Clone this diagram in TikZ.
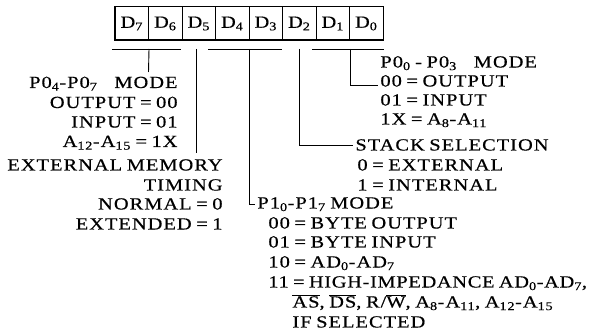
\documentclass[tikz,border=0pt]{standalone}
\usepackage{fontspec}
\setmainfont{Liberation Serif}[FakeStretch=1.2, LetterSpace=6, WordSpace=0.75, FakeBold=0.5]

\tikzset{
  bunka/.style={draw, line width=1pt, minimum width=33.5pt, minimum height=33pt, inner sep=0pt},
  vlevo/.style={inner sep=0pt, anchor=base east},
  vpravo/.style={inner sep=0pt, anchor=base west},
}

\begin{document}
\begin{tikzpicture}[x=1pt, y=-1pt, line width=0.9pt, font=\fontsize{17}{20}\selectfont]
\useasboundingbox (0,0) rectangle (592,336);

% registr
\foreach \i in {0,...,7}
  \node[bunka] (d\i) at ({366.25-33.5*\i},23.5) {D\textsubscript{\i}};
\draw[line width=1.8pt] (d7.north west) rectangle (d0.south east);

% bity D7 a D6
\node[vlevo] (p47) at (178,88) {P0\textsubscript{4}-P0\textsubscript{7}\quad MODE};
\node[vlevo] (out) at (178,108) {OUTPUT = 00};
\node[vlevo] (inp) at (178,127.5) {INPUT = 01};
\node[vlevo] (a12) at (178,147) {A\textsubscript{12}-A\textsubscript{15} = 1X};
\coordinate (z76) at (112,49);
\coordinate (k76) at (181,49);
\coordinate (c76) at (148.5,72);
\draw (z76) -- (k76);
\draw (d7.south east |- z76) -- (c76);

% bit D5
\node[vlevo] (ext) at (223,170.5) {EXTERNAL MEMORY};
\node[vlevo] (tim) at (223,190.5) {TIMING};
\node[vlevo] (nor) at (223,209.5) {NORMAL = 0};
\node[vlevo] (exd) at (223,229.5) {EXTENDED = 1};
\coordinate (c5) at (196,153);
\draw (c5 |- z76) -- (c5);

% bity D4 a D3
\node[vpravo] (p17) at (257,208.5) {P1\textsubscript{0}-P1\textsubscript{7} MODE};
\node[vpravo] (b00) at (268,228.5) {00 = BYTE OUTPUT};
\node[vpravo] (b01) at (268,247.5) {01 = BYTE INPUT};
\node[vpravo] (b10) at (268,267.5) {10 = AD\textsubscript{0}-AD\textsubscript{7}};
\node[vpravo] (b11) at (268,287.5) {\addfontfeature{LetterSpace=4}11 = HIGH-IMPEDANCE AD\textsubscript{0}-AD\textsubscript{7},};
\node[vpravo] (bas) at (292,307.5) {$\overline{\mbox{AS}}$, $\overline{\mbox{DS}}$, R/$\overline{\mbox{W}}$, A\textsubscript{8}-A\textsubscript{11}, A\textsubscript{12}-A\textsubscript{15}};
\node[vpravo] (bif) at (292,327.5) {IF SELECTED};
\coordinate (z43) at (208,49);
\coordinate (k43) at (282,49);
\draw (z43) -- (k43);
\draw (d4.south east |- z43) |- ([xshift=-2pt]p17.west);

% bit D2
\node[vpravo] (stk) at (355,150.5) {STACK SELECTION};
\node[vpravo] (s0) at (357,170.5) {0 = EXTERNAL};
\node[vpravo] (s1) at (357,190.5) {1 = INTERNAL};
\draw (d2.south |- z43) |- ([xshift=-2pt]stk.west);

% bity D1 a D0
\node[vpravo] (p03) at (380,67.5) {P0\textsubscript{0} - P0\textsubscript{3}\quad MODE};
\node[vpravo] (o00) at (380,86.5) {00 = OUTPUT};
\node[vpravo] (o01) at (380,105.5) {01 = INPUT};
\node[vpravo] (o1x) at (380,124.5) {1X = A\textsubscript{8}-A\textsubscript{11}};
\coordinate (z10) at (312,49);
\coordinate (k10) at (384,49);
\draw (z10) -- (k10);
\draw (d1.south east |- z10) |- ([xshift=-2pt,yshift=1.5pt]o00.base west);

\end{tikzpicture}
\end{document}
